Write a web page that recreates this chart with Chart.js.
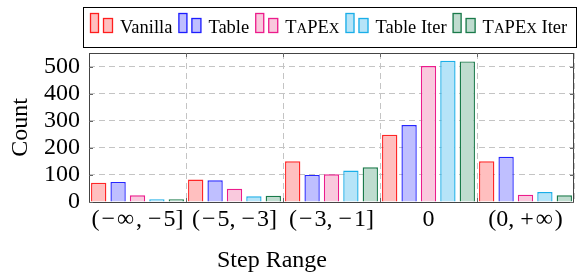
<!DOCTYPE html>
<html>
<head>
<meta charset="utf-8">
<script src="https://cdn.jsdelivr.net/npm/chart.js@4"></script>
<style>
html, body { margin: 0; padding: 0; background: #fff; }
#wrap { width: 577px; height: 272px; }
</style>
</head>
<body>
<div id="wrap"><canvas id="chart"></canvas></div>
<script>
// hair spaces (\u200A) mimic the wider TeX math spacing around the symbols
const categories = [
    '(\u200A\u2212\u200A\u221E\u200A, \u2212\u200A5]',
    '(\u200A\u2212\u200A5, \u2212\u200A3]',
    '(\u200A\u2212\u200A3, \u2212\u200A1]',
    '0',
    '(0, +\u200A\u221E\u200A)',
];
const vanilla = [71, 83, 150, 248, 150];
const table = [74, 80, 100, 284, 167];
const tapex = [25, 49, 102, 502, 27];
const tableIter = [10, 21, 116, 521, 37];
const tapexIter = [10, 23, 128, 519, 25];
const yTicks = [0, 100, 200, 300, 400, 500];

const SERIF = '"Liberation Serif", "DejaVu Serif", serif';

const series = [
    { label: 'Vanilla', data: vanilla, border: 'rgba(255,0,0,0.85)', fill: '#ffbfbf' },
    { label: 'Table', data: table, border: 'rgba(0,0,255,0.85)', fill: '#bfbfff' },
    { label: 'TaPEx', data: tapex, border: '#ec1c8c', fill: '#f9c9dd' },
    { label: 'Table Iter', data: tableIter, border: '#1aaee8', fill: '#b6e4f8' },
    { label: 'TaPEx Iter', data: tapexIter, border: '#1a7a4a', fill: '#bfdccf' },
];

// legend text: the word TaPEx is set in small caps
function drawLegendText(ctx, text, x, y, size) {
    const parts = text.split(/(TaPEx)/);
    for (const part of parts) {
        if (part === 'TaPEx') {
            for (const ch of part) {
                const small = ch === ch.toLowerCase();
                ctx.font = `${small ? size * 0.8 : size}px ${SERIF}`;
                const c = ch.toUpperCase();
                ctx.fillText(c, x, y);
                x += ctx.measureText(c).width;
            }
        } else if (part) {
            ctx.font = `${size}px ${SERIF}`;
            ctx.fillText(part, x, y);
            x += ctx.measureText(part).width;
        }
    }
    return x;
}

const framePlugin = {
    id: 'frame',
    afterDraw(chart) {
        const { ctx, chartArea: a, scales } = chart;
        ctx.save();
        // axis box
        ctx.strokeStyle = '#444';
        ctx.lineWidth = 1;
        ctx.strokeRect(Math.round(a.left) + 0.5, Math.round(a.top) + 0.5,
            Math.round(a.right - a.left) - 1, Math.round(a.bottom - a.top));
        // small inner ticks, pgfplots style
        ctx.strokeStyle = '#666';
        ctx.beginPath();
        yTicks.forEach((v) => {
            const y = Math.round(scales.y.getPixelForValue(v)) + 0.5;
            ctx.moveTo(a.left, y); ctx.lineTo(a.left + 4, y);
            ctx.moveTo(a.right, y); ctx.lineTo(a.right - 4, y);
        });
        const step = (a.right - a.left) / categories.length;
        for (let i = 1; i < categories.length; i++) {
            const x = Math.round(a.left + step * i) + 0.5;
            ctx.moveTo(x, a.top); ctx.lineTo(x, a.top + 4);
            ctx.moveTo(x, a.bottom); ctx.lineTo(x, a.bottom - 4);
        }
        ctx.stroke();

        // x axis title (sits left of the plot centre in the original)
        ctx.fillStyle = '#000';
        ctx.font = `24px ${SERIF}`;
        ctx.textAlign = 'center';
        ctx.textBaseline = 'middle';
        ctx.fillText('Step Range', 272, 261);

        // legend
        ctx.textAlign = 'left';
        ctx.textBaseline = 'alphabetic';
        ctx.strokeStyle = '#000';
        ctx.strokeRect(83.5, 7.5, 493, 40);
        let x = 90;
        series.forEach((s) => {
            ctx.lineWidth = 1.3;
            ctx.fillStyle = s.fill;
            ctx.strokeStyle = s.border;
            ctx.fillRect(x, 13, 9, 20);
            ctx.strokeRect(x + 0.5, 13.5, 8, 19);
            ctx.fillRect(x + 13, 18, 10, 15);
            ctx.strokeRect(x + 13.5, 18.5, 9, 14);
            ctx.fillStyle = '#000';
            x = drawLegendText(ctx, s.label, x + 30, 33, 18.5);
            x += 6;
        });
        ctx.restore();
    },
};

new Chart(document.getElementById('chart'), {
    type: 'bar',
    data: {
        labels: categories,
        datasets: series.map((s) => ({
            label: s.label,
            data: s.data,
            backgroundColor: s.fill,
            borderColor: s.border,
            borderWidth: 1.4,
            categoryPercentage: 1.0,
            barPercentage: 0.79,
        })),
    },
    options: {
        responsive: true,
        maintainAspectRatio: false,
        animation: false,
        layout: { padding: { left: 0, right: 3, top: 53, bottom: 0 } },
        plugins: {
            legend: { display: false },
            tooltip: { enabled: false },
        },
        scales: {
            x: {
                grid: {
                    offset: true,
                    color: '#c4c4c4',
                    drawTicks: false,
                },
                border: { display: false, dash: [6, 4] },
                ticks: {
                    color: '#000',
                    padding: 3,
                    maxRotation: 0,
                    autoSkip: false,
                    font: { family: SERIF, size: 24 },
                },
                afterFit: (s) => { s.height = 70; },
            },
            y: {
                min: 0,
                max: 550,
                grid: {
                    color: (c) => (c.tick && c.tick.value === 0 ? 'rgba(0,0,0,0)' : '#c4c4c4'),
                    drawTicks: false,
                },
                border: { display: false, dash: [6, 4] },
                afterBuildTicks: (s) => { s.ticks = yTicks.map((v) => ({ value: v })); },
                ticks: {
                    color: '#000',
                    padding: 9,
                    autoSkip: false,
                    font: { family: SERIF, size: 24, lineHeight: 1 },
                },
                title: {
                    display: true,
                    text: 'Count',
                    color: '#000',
                    padding: { top: 6, bottom: 0 },
                    font: { family: SERIF, size: 24 },
                },
                afterFit: (s) => { s.width = 89; },
            },
        },
    },
    plugins: [framePlugin],
});
</script>
</body>
</html>
